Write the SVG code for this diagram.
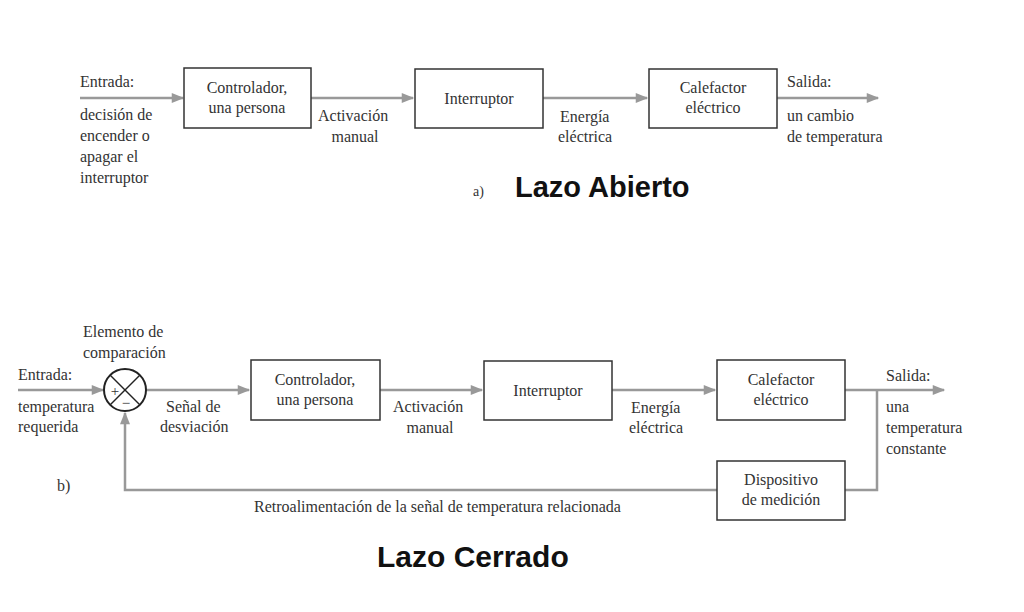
<svg xmlns="http://www.w3.org/2000/svg" width="1024" height="612" viewBox="0 0 1024 612">
<style>
text{font-family:"Liberation Serif","DejaVu Serif",serif;font-size:16px;fill:#333}
.c{text-anchor:middle}
.big{font-family:"Liberation Sans","DejaVu Sans",sans-serif;font-weight:bold;font-size:29px;fill:#111}
.box{fill:#fff;stroke:#333;stroke-width:1.5}
.ln{fill:none;stroke:#999;stroke-width:2.5}
</style>
<defs><marker id="a" viewBox="0 0 10 10" refX="9" refY="5" markerWidth="6" markerHeight="5" orient="auto" markerUnits="strokeWidth"><path d="M0,1 L10,5 L0,9 z" fill="#999"/></marker></defs>
<rect width="1024" height="612" fill="#fff"/>
<g id="connectors">
<line class="ln" x1="80" y1="98" x2="183" y2="98" marker-end="url(#a)"/>
<line class="ln" x1="311" y1="98" x2="413" y2="98" marker-end="url(#a)"/>
<line class="ln" x1="543" y1="98" x2="647" y2="98" marker-end="url(#a)"/>
<line class="ln" x1="777" y1="98" x2="878" y2="98" marker-end="url(#a)"/>
<line class="ln" x1="18" y1="390" x2="103" y2="390" marker-end="url(#a)"/>
<line class="ln" x1="146" y1="390" x2="249" y2="390" marker-end="url(#a)"/>
<line class="ln" x1="380" y1="390" x2="482" y2="390" marker-end="url(#a)"/>
<line class="ln" x1="612" y1="390" x2="715" y2="390" marker-end="url(#a)"/>
<line class="ln" x1="845" y1="390" x2="944" y2="390" marker-end="url(#a)"/>
<polyline class="ln" points="877,390 877,490 845,490"/>
<polyline class="ln" points="717,490 125,490 125,413" marker-end="url(#a)"/>
</g>
<g id="top-controlador"><rect class="box" x="184" y="68" width="127" height="60"/><text class="c" x="247" y="93">Controlador,</text><text class="c" x="247" y="113">una persona</text></g>
<g id="top-interruptor"><rect class="box" x="415" y="69" width="128" height="59"/><text class="c" x="479" y="104">Interruptor</text></g>
<g id="top-calefactor"><rect class="box" x="649" y="69" width="128" height="59"/><text class="c" x="713" y="93">Calefactor</text><text class="c" x="713" y="113">eléctrico</text></g>
<g id="top-labels">
<text x="80" y="87">Entrada:</text>
<text x="80" y="120">decisión de</text><text x="80" y="141">encender o</text><text x="80" y="162">apagar el</text><text x="80" y="183">interruptor</text>
<text x="318" y="121">Activación</text><text class="c" x="355" y="142">manual</text>
<text x="560" y="122">Energía</text><text x="558" y="142">eléctrica</text>
<text x="787" y="87">Salida:</text><text x="787" y="121">un cambio</text><text x="787" y="142">de temperatura</text>
<text x="473" y="196" style="font-size:14px">a)</text>
<text class="big" x="515" y="197">Lazo Abierto</text>
</g>
<g id="comparador"><circle cx="125" cy="390" r="21" fill="#fff" stroke="#222" stroke-width="2"/>
<line x1="110" y1="375" x2="140" y2="405" stroke="#222" stroke-width="1.5"/><line x1="140" y1="375" x2="110" y2="405" stroke="#222" stroke-width="1.5"/>
<text class="c" x="115" y="396" style="font-size:15px">+</text><text class="c" x="126" y="408" style="font-size:15px">−</text></g>
<g id="bot-controlador"><rect class="box" x="251" y="360" width="129" height="60"/><text class="c" x="315" y="385">Controlador,</text><text class="c" x="315" y="405">una persona</text></g>
<g id="bot-interruptor"><rect class="box" x="484" y="361" width="128" height="59"/><text class="c" x="548" y="396">Interruptor</text></g>
<g id="bot-calefactor"><rect class="box" x="717" y="360" width="128" height="60"/><text class="c" x="781" y="385">Calefactor</text><text class="c" x="781" y="405">eléctrico</text></g>
<g id="dispositivo"><rect class="box" x="717" y="461" width="128" height="59"/><text class="c" x="781" y="485">Dispositivo</text><text class="c" x="781" y="505">de medición</text></g>
<g id="bot-labels">
<text x="83" y="337">Elemento de</text><text x="83" y="358">comparación</text>
<text x="18" y="380">Entrada:</text><text x="18" y="412">temperatura</text><text x="18" y="432">requerida</text>
<text x="166" y="412">Señal de</text><text x="160" y="432">desviación</text>
<text x="393" y="412">Activación</text><text class="c" x="430" y="433">manual</text>
<text x="631" y="413">Energía</text><text x="629" y="433">eléctrica</text>
<text x="886" y="381">Salida:</text><text x="886" y="412">una</text><text x="886" y="433">temperatura</text><text x="886" y="454">constante</text>
<text x="57" y="491">b)</text>
<text x="254" y="512">Retroalimentación de la señal de temperatura relacionada</text>
<text class="big" x="377" y="567" style="font-size:30px">Lazo Cerrado</text>
</g>
</svg>
